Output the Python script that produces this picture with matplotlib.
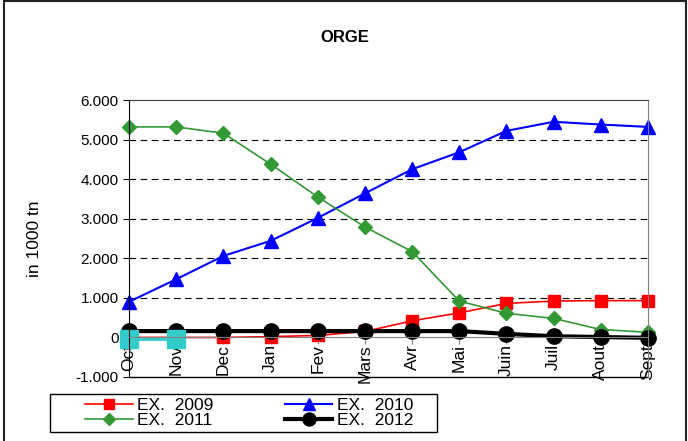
import matplotlib
matplotlib.use("Agg")
import matplotlib.pyplot as plt
from matplotlib.patches import Rectangle
from matplotlib.ticker import FuncFormatter

plt.rcParams["font.family"] = ["Liberation Sans", "DejaVu Sans"]

months = ["Oct", "Nov", "Dec", "Jan", "Fev", "Mars", "Avr", "Mai",
          "Juin", "Juil", "Aout", "Sept"]
ex_2009 = [0, 0, 0, 20, 50, 150, 420, 620, 860, 920, 930, 930]
ex_2010 = [900, 1470, 2060, 2440, 3020, 3640, 4250, 4680, 5220, 5450, 5380, 5320]
ex_2011 = [5320, 5320, 5160, 4380, 3550, 2790, 2170, 920, 610, 480, 200, 130]
ex_2012 = [160, 160, 160, 160, 160, 160, 160, 160, 90, 30, 10, -10]
ex_2013 = [-30, -30]

fig = plt.figure(figsize=(6.88, 4.41), dpi=100)
ax = fig.add_axes([129 / 688, 1 - 377 / 441, (648 - 129) / 688, (377 - 100) / 441])

x = list(range(len(months)))
l09, = ax.plot(x, ex_2009, color="#FF0000", lw=1.2, marker="s", ms=9,
               label="EX.  2009", clip_on=False)
l10, = ax.plot(x, ex_2010, color="#0000FF", lw=1.5, marker="^", ms=10,
               label="EX.  2010", clip_on=False)
l11, = ax.plot(x, ex_2011, color="#339933", lw=1.2, marker="D", ms=7,
               label="EX.  2011", clip_on=False)
l12, = ax.plot(x, ex_2012, color="black", lw=3, marker="o", ms=11,
               label="EX.  2012", clip_on=False)
ax.plot(x[:len(ex_2013)], ex_2013, color="#33CCCC", lw=2, marker="s", ms=13,
        label="EX.  2013", clip_on=False)

ax.set_xlim(0, len(months) - 1)
ax.set_ylim(-1000, 6000)
ax.set_yticks(range(-1000, 7000, 1000))
ax.yaxis.set_major_formatter(FuncFormatter(lambda v, p: f"{int(v):,}".replace(",", ".")))
for y in range(1000, 6000, 1000):
    ax.axhline(y, color="black", lw=0.8, ls=(0, (6, 4)), zorder=0)
ax.axhline(-1000, color="black", lw=1, clip_on=False, zorder=0)

ax.spines["bottom"].set_position(("data", 0))
ax.spines["bottom"].set_color("#808080")
ax.spines["right"].set_color("#808080")
ax.spines["top"].set_color("#404040")
ax.spines["left"].set_color("black")
ax.set_xticks(x)
ax.set_xticklabels(months, rotation=90)
ax.tick_params(axis="x", direction="inout", length=10, labelsize=12.5, pad=0,
               color="#808080")
ax.tick_params(axis="y", direction="inout", length=8, labelsize=11)

ax.set_ylabel("in 1000 tn", fontsize=12.5, labelpad=24)
fig.text(345 / 688, 1 - 37 / 441, "ORGE", fontsize=12, fontweight="bold",
         ha="center", va="center")

# legend box drawn separately, entries placed inside it
fig.patches.append(Rectangle((50 / 688, 1 - 432 / 441), 387 / 688, 38 / 441,
                             transform=fig.transFigure, fill=False,
                             edgecolor="black", lw=1))
leg = fig.legend(handles=[l09, l11, l10, l12], ncol=2, loc="upper left",
                 bbox_to_anchor=(85 / 688, 1 - 398 / 441),
                 borderaxespad=0, fontsize=12.5, handlelength=2.75,
                 labelspacing=0.0, borderpad=0, handletextpad=0.25,
                 columnspacing=4.1, markerscale=0.85, frameon=False)

fig.patches.append(Rectangle((4 / 688, -0.1), 682 / 688, 1.097, transform=fig.transFigure,
                             fill=False, edgecolor="#222222", lw=1.5))

fig.savefig("out.png", dpi=100)
